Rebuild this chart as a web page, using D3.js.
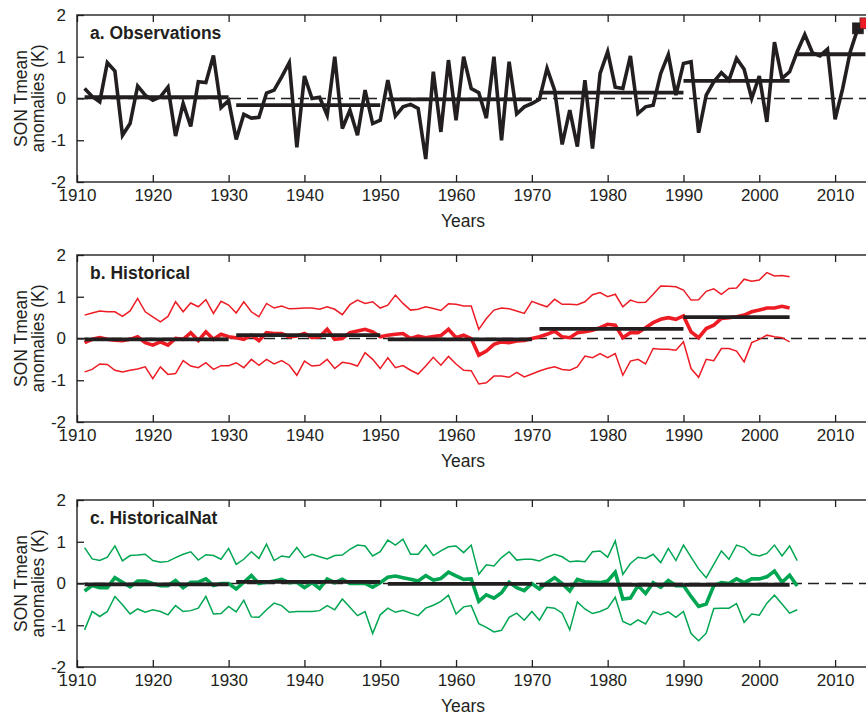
<!DOCTYPE html>
<html><head><meta charset="utf-8">
<script src="https://cdn.jsdelivr.net/npm/d3@7"></script>
<style>
html,body{margin:0;padding:0;background:#fff;}
svg text{font-family:"Liberation Sans",Arial,Helvetica,sans-serif;fill:#231f20;}
</style></head>
<body>
<svg id="chart" width="866" height="717"></svg>
<script>
// ---------- DATA ----------
const obsStart = 1911;
const obsValues = [0.24,0.05,-0.08,0.86,0.66,-0.88,-0.6,0.3,0.08,-0.04,
 0.04,0.27,-0.9,-0.12,-0.67,0.4,0.38,1.03,-0.22,-0.05,
 -0.98,-0.38,-0.47,-0.45,0.13,0.2,0.52,0.86,-1.17,0.54,
 0.0,0.03,-0.4,1.0,-0.72,-0.28,-0.88,0.2,-0.6,-0.52,
 0.44,-0.42,-0.2,-0.14,-0.24,-1.45,0.64,-0.8,0.92,-0.52,
 1.0,0.24,0.14,-0.47,1.0,-1.0,0.88,-0.37,-0.2,-0.12,
 -0.02,0.72,0.2,-1.1,-0.28,-1.15,0.44,-1.2,0.6,1.12,
 0.27,0.24,1.02,-0.36,-0.2,-0.16,0.6,1.05,0.08,0.84,
 0.88,-0.82,0.08,0.4,0.62,0.44,0.96,0.7,0.0,0.54,
 -0.56,1.35,0.48,0.64,1.12,1.53,1.1,1.02,1.18,-0.5,
 0.24,1.12,1.68];
const obsMarkers = [{year:2013, value:1.68, color:"#231f20"},{year:2014, value:1.8, color:"#ed1c24"}];
const obsSegments = [[1911,1930,0.03],[1931,1950,-0.16],[1951,1970,-0.02],[1971,1990,0.14],[1990,2004,0.42],[2005,2014,1.06]];

const histStart = 1911;
const histMean = [-0.1,-0.02,0.02,-0.02,-0.04,-0.05,-0.02,0.04,-0.1,-0.16,
 -0.08,-0.16,0,-0.02,0.14,-0.05,0.16,-0.02,0.1,0.04,
 0.02,-0.02,0.08,-0.05,0.14,0.12,0.12,0.04,0.06,0.12,
 0.02,0.04,0.22,-0.02,0,0.14,0.18,0.22,0.16,0.04,
 0.08,0.1,0.12,0,0.06,0.02,0.05,0.07,0.22,0.02,
 0.08,0,-0.4,-0.3,-0.14,-0.08,-0.1,-0.06,-0.05,0,
 0.04,0.1,0.18,0.04,0.02,0.14,0.16,0.2,0.26,0.34,
 0.32,0.02,0.14,0.14,0.26,0.38,0.46,0.5,0.46,0.54,
 0.16,0.02,0.24,0.32,0.48,0.5,0.52,0.56,0.64,0.68,
 0.73,0.73,0.77,0.73];
const histUpper = [0.56,0.61,0.66,0.64,0.64,0.53,0.66,0.96,0.64,0.52,
 0.4,0.53,0.88,0.64,0.85,0.76,0.93,0.6,0.89,0.8,
 0.61,0.88,0.64,0.52,0.84,0.73,0.78,0.71,0.72,0.73,
 0.73,0.7,0.76,0.7,0.57,0.81,0.92,0.84,0.88,0.73,
 0.8,1.04,0.84,0.68,0.7,0.76,0.72,0.67,0.83,0.82,
 0.78,0.78,0.22,0.48,0.68,0.73,0.71,0.66,0.6,0.89,
 0.82,0.76,0.94,0.82,0.82,0.81,0.88,1.05,1.1,1.0,
 1.06,0.76,0.92,0.86,0.87,1.06,1.26,1.25,1.24,1.16,
 0.92,0.93,1.13,1.19,1.06,1.2,1.21,1.42,1.37,1.4,
 1.58,1.5,1.51,1.48];
const histLower = [-0.8,-0.74,-0.61,-0.62,-0.76,-0.8,-0.76,-0.73,-0.68,-0.96,
 -0.68,-0.86,-0.84,-0.53,-0.66,-0.7,-0.58,-0.74,-0.65,-0.65,
 -0.58,-0.7,-0.5,-0.64,-0.5,-0.61,-0.53,-0.64,-0.88,-0.54,
 -0.66,-0.64,-0.5,-0.72,-0.57,-0.6,-0.66,-0.34,-0.5,-0.72,
 -0.46,-0.7,-0.65,-0.76,-0.85,-0.66,-0.45,-0.64,-0.43,-0.61,
 -0.76,-0.77,-1.09,-1.06,-0.9,-0.9,-0.93,-0.81,-0.92,-0.85,
 -0.78,-0.72,-0.68,-0.74,-0.76,-0.68,-0.42,-0.46,-0.36,-0.46,
 -0.36,-0.88,-0.54,-0.5,-0.61,-0.24,-0.26,-0.26,-0.28,-0.08,
 -0.72,-0.93,-0.5,-0.53,-0.24,-0.24,-0.3,-0.56,-0.1,-0.02,
 0.08,0.04,0.02,-0.08];
const histSegments = [[1911,1930,-0.02],[1931,1950,0.08],[1951,1970,-0.02],[1971,1990,0.23],[1990,2004,0.51]];

const natStart = 1911;
const natMean = [-0.18,-0.05,-0.1,-0.1,0.14,0.03,-0.08,0.06,0.06,0,
 -0.05,-0.05,0.07,-0.1,0.03,0.03,0.11,-0.05,0,0,
 -0.13,0.03,0.19,0,0.03,0.06,0.1,0.02,0.03,-0.1,
 0.02,-0.12,0.11,0.02,0.1,0,0,0,-0.09,0.02,
 0.15,0.18,0.14,0.1,0.06,0.19,0.08,0.12,0.27,0.18,
 0.1,0.11,-0.43,-0.27,-0.35,-0.22,0.03,-0.1,-0.17,0,
 -0.13,0.02,0.14,0,-0.18,0.1,0.04,0.03,0.02,0.06,
 0.27,-0.37,-0.35,-0.05,-0.24,0.02,-0.09,0.07,-0.05,-0.05,
 -0.31,-0.55,-0.49,-0.05,0.02,0,0.11,0.02,0.11,0.11,
 0.16,0.3,0.03,0.2,-0.06];
const natUpper = [0.86,0.59,0.55,0.63,0.9,0.54,0.67,0.68,0.7,0.55,
 0.51,0.53,0.62,0.7,0.76,0.56,0.69,0.67,0.58,0.84,
 0.46,0.58,0.76,0.6,0.94,0.55,0.66,0.63,0.86,0.62,
 0.7,0.64,0.59,0.67,0.68,0.82,0.92,0.9,0.66,0.76,
 1.04,0.92,1.06,0.7,0.7,0.92,0.67,0.78,0.88,0.9,
 0.74,0.92,0.22,0.45,0.42,0.62,0.76,0.56,0.58,0.58,
 0.54,0.63,0.7,0.64,0.52,0.54,0.52,0.76,0.78,0.63,
 1.02,0.22,0.48,0.63,0.6,0.7,0.5,0.84,0.55,0.92,
 0.63,0.35,0.14,0.46,0.78,0.58,0.92,0.86,0.7,0.66,
 0.72,0.92,0.66,0.9,0.55];
const natLower = [-1.11,-0.67,-0.79,-0.67,-0.31,-0.51,-0.73,-0.61,-0.69,-0.63,
 -0.67,-0.75,-0.53,-0.67,-0.65,-0.59,-0.31,-0.73,-0.72,-0.55,
 -0.68,-0.4,-0.8,-0.81,-0.63,-0.47,-0.53,-0.69,-0.67,-0.67,
 -0.67,-0.65,-0.53,-0.63,-0.37,-0.57,-0.77,-0.67,-1.2,-0.75,
 -0.59,-0.69,-0.64,-0.71,-0.77,-0.59,-0.52,-0.43,-0.28,-0.73,
 -0.56,-0.53,-0.96,-1.05,-1.16,-1.12,-0.81,-0.71,-0.88,-0.67,
 -0.88,-0.57,-0.59,-0.71,-1.11,-0.44,-0.61,-0.72,-0.67,-0.59,
 -0.33,-0.91,-0.99,-0.87,-0.97,-0.67,-0.75,-0.68,-0.81,-0.67,
 -1.2,-1.37,-1.19,-0.6,-0.59,-0.59,-0.48,-0.93,-0.73,-0.76,
 -0.47,-0.28,-0.49,-0.71,-0.63];
const natSegments = [[1911,1930,-0.02],[1931,1950,0.04],[1951,1970,-0.01],[1971,1990,-0.03],[1990,2004,-0.03]];

const xTicks = [1910,1920,1930,1940,1950,1960,1970,1980,1990,2000,2010];
const yTicks = [-2,-1,0,1,2];
const panelTitles = ["a. Observations","b. Historical","c. HistoricalNat"];
const yTitle = ["SON Tmean","anomalies (K)"];
const xTitle = "Years";

// ---------- DRAW ----------
const BLACK = "#231f20", RED = "#ed1c24", GREEN = "#00a651";
const svg = d3.select("#chart");
const x = d3.scaleLinear().domain([1910,2015]).range([77,873]);
const panelTops = [15,255,500];
const PH = 167;
const toPts = (start, vals) => vals.map((v,i)=>({year:start+i, value:v}));

const panels = [
  {series:[{pts:toPts(obsStart,obsValues), color:BLACK, w:3.6}], segs:obsSegments, markers:obsMarkers},
  {series:[{pts:toPts(histStart,histUpper), color:RED, w:1.5},{pts:toPts(histStart,histLower), color:RED, w:1.5},{pts:toPts(histStart,histMean), color:RED, w:3.6}], segs:histSegments},
  {series:[{pts:toPts(natStart,natUpper), color:GREEN, w:1.5},{pts:toPts(natStart,natLower), color:GREEN, w:1.5},{pts:toPts(natStart,natMean), color:GREEN, w:3.6}], segs:natSegments}
];

panels.forEach((p,pi)=>{
  const top = panelTops[pi];
  const y = d3.scaleLinear().domain([-2,2]).range([top+PH, top]);
  const g = svg.append("g");
  const clipId = "clip"+pi;
  svg.append("clipPath").attr("id",clipId).append("rect")
    .attr("x",x(1910)).attr("y",top).attr("width",x(2015)-x(1910)).attr("height",PH);
  const plot = g.append("g").attr("clip-path",`url(#${clipId})`);

  // zero dashed line
  plot.append("line").attr("x1",x(1910)).attr("x2",x(2015)).attr("y1",y(0)).attr("y2",y(0))
    .attr("stroke",BLACK).attr("stroke-width",1.3).attr("stroke-dasharray","11,6");

  const line = d3.line().x(d=>x(d.year)).y(d=>y(d.value)).curve(d3.curveLinear);
  p.series.forEach(s=>{
    plot.append("path").datum(s.pts).attr("d",line).attr("fill","none")
      .attr("stroke",s.color).attr("stroke-width",s.w).attr("stroke-linejoin","miter").attr("stroke-miterlimit",4);
  });
  p.segs.forEach(sg=>{
    plot.append("line").attr("x1",x(sg[0])).attr("x2",x(sg[1])).attr("y1",y(sg[2])).attr("y2",y(sg[2]))
      .attr("stroke",BLACK).attr("stroke-width",3.8);
  });
  if(p.markers){
    p.markers.forEach(m=>{
      g.append("rect").attr("x",x(m.year)-5.5).attr("y",y(m.value)-5.5).attr("width",11).attr("height",11)
        .attr("fill",m.color).attr("stroke",BLACK).attr("stroke-width",0.6);
    });
  }

  // axes
  const fmt = d=>String(d);
  const ax = [
    g.append("g").attr("transform",`translate(0,${top+PH})`).call(d3.axisBottom(x).tickValues(xTicks).tickFormat(fmt).tickSizeInner(-7).tickSizeOuter(0).tickPadding(7)),
    g.append("g").attr("transform",`translate(0,${top})`).call(d3.axisTop(x).tickValues(xTicks).tickFormat("").tickSizeInner(-7).tickSizeOuter(0)),
    g.append("g").attr("transform",`translate(${x(1910)},0)`).call(d3.axisLeft(y).tickValues(yTicks).tickFormat(fmt).tickSizeInner(-7).tickSizeOuter(0).tickPadding(11)),
    g.append("g").attr("transform",`translate(${x(2015)},0)`).call(d3.axisRight(y).tickValues(yTicks).tickFormat("").tickSizeInner(-7).tickSizeOuter(0))
  ];
  ax.forEach(a=>{
    a.select(".domain").remove();
    a.selectAll(".tick line").attr("stroke",BLACK).attr("stroke-width",1.3);
    a.selectAll(".tick text").attr("font-size",17).attr("fill",BLACK)
      .style("font-family",'"Liberation Sans",Arial,sans-serif');
  });
  g.append("rect").attr("x",x(1910)).attr("y",top).attr("width",x(2015)-x(1910)).attr("height",PH)
    .attr("fill","none").attr("stroke",BLACK).attr("stroke-width",1.4);

  // titles
  g.append("text").attr("x",90).attr("y",top+24).attr("font-size",17.5).attr("font-weight","bold").text(panelTitles[pi]);
  g.append("text").attr("x",463).attr("y",top+PH+45).attr("text-anchor","middle").attr("font-size",17.5).text(xTitle);
  const cy = top+PH/2;
  g.append("text").attr("transform",`translate(27,${cy}) rotate(-90)`).attr("text-anchor","middle").attr("font-size",17.5).text(yTitle[0]);
  g.append("text").attr("transform",`translate(44,${cy}) rotate(-90)`).attr("text-anchor","middle").attr("font-size",17.5).text(yTitle[1]);
});
</script>
</body></html>
